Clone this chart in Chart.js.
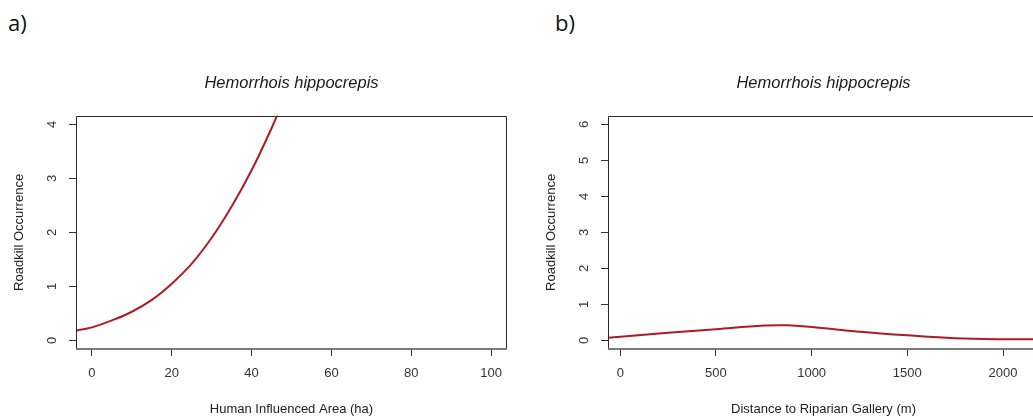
<!DOCTYPE html>
<html lang="en">
<head>
  <meta charset="UTF-8" />
  <title>Hemorrhois hippocrepis - Roadkill Occurrence</title>
  <script src="https://cdn.jsdelivr.net/npm/chart.js"></script>
  <style>
    body {
      margin: 0;
      width: 1033px;
      height: 420px;
      overflow: hidden;
      position: relative;
      background: #ffffff;
    }

    .panel-tag {
      position: absolute;
      top: 11px;
      font-family: "Open Sans", sans-serif;
      font-size: 22px;
      line-height: 1;
      color: #111;
    }

    canvas {
      position: absolute;
      top: 0;
    }
  </style>
</head>
<body>

  <div class="panel-tag" style="left:8px">a)</div>
  <div class="panel-tag" style="left:555px">b)</div>

  <canvas id="chartA" width="583" height="420" style="left:0"></canvas>
  <canvas id="chartB" width="583" height="420" style="left:532px"></canvas>

<script>
  const speciesName = 'Hemorrhois hippocrepis';
  const yAxisTitle = 'Roadkill Occurrence';

  // a) Human Influenced Area (ha)
  const areaX = [-4, 0, 5, 10, 15, 20, 25, 30, 35, 40, 45, 48];
  const areaY = [0.18, 0.24, 0.37, 0.53, 0.75, 1.05, 1.42, 1.9, 2.48, 3.15, 3.93, 4.45];
  const areaTicksX = [0, 20, 40, 60, 80, 100];
  const areaTicksY = [0, 1, 2, 3, 4];
  const areaLimitsX = [-4, 104];
  const areaLimitsY = [-0.16, 4.16];

  // b) Distance to Riparian Gallery (m)
  const distX = [-64, 0, 250, 500, 750, 875, 1000, 1250, 1500, 1750, 2000, 2190];
  const distY = [0.075, 0.10, 0.21, 0.31, 0.41, 0.42, 0.37, 0.24, 0.14, 0.06, 0.03, 0.03];
  const distTicksX = [0, 500, 1000, 1500, 2000];
  const distTicksY = [0, 1, 2, 3, 4, 5, 6];
  const distLimitsX = [-64, 2188];
  const distLimitsY = [-0.24, 6.24];

  const fontFamily = '"Liberation Sans", Arial, sans-serif';
  const curveColor = '#b01a24';

  // R style box around the plot region
  const framePlugin = {
    id: 'frame',
    afterDatasetsDraw(chart) {
      const { ctx } = chart;
      const left = Math.round(chart.chartArea.left);
      const right = Math.round(chart.chartArea.right);
      const top = Math.round(chart.chartArea.top);
      const bottom = Math.round(chart.chartArea.bottom);
      ctx.save();
      ctx.strokeStyle = '#2b2b2b';
      ctx.lineWidth = 1;
      ctx.beginPath();
      ctx.moveTo(left + 0.5, bottom);
      ctx.lineTo(left + 0.5, top + 0.5);
      ctx.lineTo(right - 0.5, top + 0.5);
      ctx.lineTo(right - 0.5, bottom);
      ctx.stroke();
      ctx.strokeStyle = '#7a7a7a';
      ctx.lineWidth = 2;
      ctx.beginPath();
      ctx.moveTo(left, bottom);
      ctx.lineTo(right, bottom);
      ctx.stroke();
      ctx.restore();
    }
  };

  function tickSetter(values) {
    return scale => { scale.ticks = values.map(v => ({ value: v })); };
  }

  function makePanel(canvasId, xs, ys, ticksX, ticksY, limX, limY, xTitle) {
    const axisGrid = {
      drawOnChartArea: false,
      drawTicks: true,
      tickLength: 7,
      color: '#333',
      lineWidth: 1
    };
    const tickFont = { family: fontFamily, size: 13 };

    return new Chart(document.getElementById(canvasId), {
      type: 'line',
      data: {
        datasets: [{
          data: xs.map((x, i) => ({ x: x, y: ys[i] })),
          borderColor: curveColor,
          borderWidth: 2,
          pointRadius: 0,
          tension: 0.4,
          fill: false
        }]
      },
      options: {
        responsive: false,
        animation: false,
        devicePixelRatio: 1,
        layout: { padding: 0 },
        plugins: {
          legend: { display: false },
          tooltip: { enabled: false },
          title: {
            display: true,
            text: speciesName,
            color: '#1a1a1a',
            font: { family: fontFamily, size: 16.5, style: 'italic', weight: 'normal', lineHeight: 1.2 },
            padding: { top: 74, bottom: 22 }
          }
        },
        scales: {
          x: {
            type: 'linear',
            min: limX[0],
            max: limX[1],
            afterBuildTicks: tickSetter(ticksX),
            afterFit: scale => { scale.height = 71; },
            grid: axisGrid,
            border: { display: false },
            ticks: {
              color: '#333',
              font: tickFont,
              padding: 10,
              maxRotation: 0,
              autoSkip: false,
              callback: v => String(v)
            },
            title: {
              display: true,
              text: xTitle,
              color: '#222',
              font: { family: fontFamily, size: 13 },
              padding: { top: 0, bottom: 3 }
            }
          },
          y: {
            type: 'linear',
            position: 'left',
            min: limY[0],
            max: limY[1],
            afterBuildTicks: tickSetter(ticksY),
            afterFit: scale => { scale.width = 76; },
            grid: axisGrid,
            border: { display: false },
            ticks: {
              color: '#333',
              font: tickFont,
              padding: 13,
              minRotation: 90,
              maxRotation: 90,
              crossAlign: 'center',
              autoSkip: false,
              callback: v => String(v)
            },
            title: {
              display: true,
              text: yAxisTitle,
              color: '#222',
              font: { family: fontFamily, size: 13 },
              padding: { top: 12, bottom: 0 }
            }
          },
          // empty right margin so the title centres over the plot box
          yMargin: {
            type: 'linear',
            position: 'right',
            afterFit: scale => { scale.width = 76; },
            ticks: { display: false },
            grid: { display: false },
            border: { display: false }
          }
        }
      },
      plugins: [framePlugin]
    });
  }

  makePanel('chartA', areaX, areaY, areaTicksX, areaTicksY, areaLimitsX, areaLimitsY, 'Human Influenced Area (ha)');
  makePanel('chartB', distX, distY, distTicksX, distTicksY, distLimitsX, distLimitsY, 'Distance to Riparian Gallery (m)');
</script>

</body>
</html>
